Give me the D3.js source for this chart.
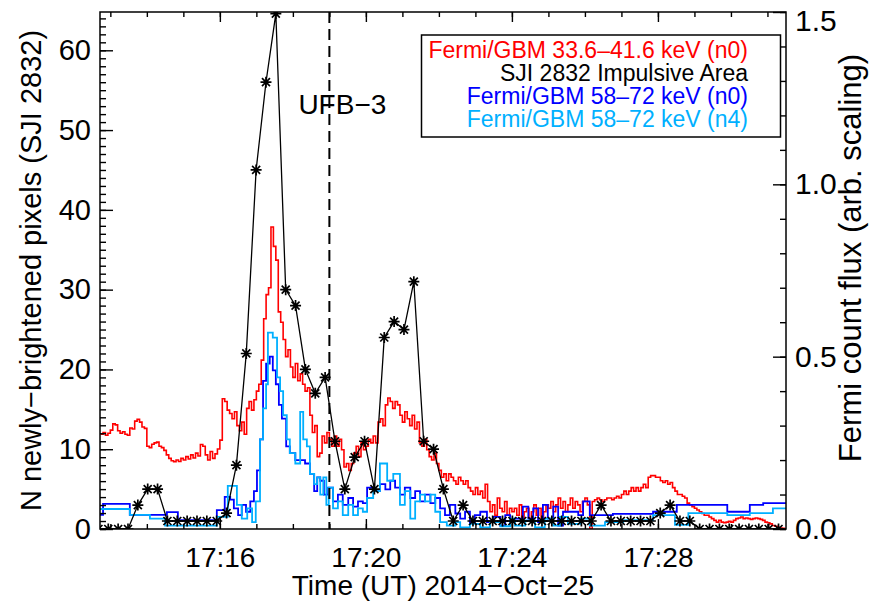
<!DOCTYPE html>
<html><head><meta charset="utf-8">
<script src="https://cdn.jsdelivr.net/npm/d3@7"></script>
<style>
body{margin:0;background:#fff}
text{font-family:"Liberation Sans",Arial,Helvetica,sans-serif}
</style>
</head><body>
<svg id="c" width="870" height="604"></svg>
<script>
// ---------------- DATA (times in seconds after 17:00:00 UT) ----------------
const xDomain = [763, 1890.5];               // 17:12:43 – 17:31:30
const xTickTimes = [960, 1200, 1440, 1680];
const xTickLabels = ["17:16", "17:20", "17:24", "17:28"];
const leftTicks = [0, 10, 20, 30, 40, 50, 60];
const rightTicks = [0, 0.5, 1.0, 1.5];
const rightTickLabels = ["0.0", "0.5", "1.0", "1.5"];
const ufbTime = 1140;                        // 17:19:00, UFB-3 marker

// SJI 2832 impulsive area (N pixels), regular cadence
const sjiStart = 760.4, sjiCadence = 16.2;
const sjiValues = [0,0,0,0,3,5,5,1,1,1,1,1,1,2,8,22,45,56,64.6,30,28,20,17,19,11,5,9,11,5,
  24,26,25,31,11,10,5,1,3,1,1,1,1,1,1,1,1,1,1,1,1,1,3,1,1,1,1,1,2,3,1,1,0,0,0,0,0,0,0,0,0];

// Fermi/GBM 33.6-41.6 keV (n0), 4 s bins, arb. scaling
const redStart = 764, redCadence = 4;
const redValues = [
 0.275,0.280,0.272,0.278,0.287,0.305,0.302,0.285,0.278,0.282,
 0.275,0.272,0.293,0.290,0.313,0.318,0.310,0.296,0.292,0.240,
 0.236,0.246,0.250,0.252,0.240,0.236,0.228,0.215,0.205,0.198,
 0.195,0.200,0.196,0.205,0.200,0.210,0.203,0.215,0.206,0.220,
 0.212,0.245,0.240,0.215,0.200,0.225,0.205,0.218,0.232,0.258,
 0.378,0.370,0.345,0.335,0.320,0.340,0.300,0.285,0.310,0.275,
 0.350,0.370,0.345,0.375,0.400,0.420,0.490,0.610,0.680,0.700,
 0.876,0.820,0.780,0.630,0.600,0.550,0.500,0.520,0.470,0.440,
 0.480,0.430,0.450,0.420,0.400,0.410,0.330,0.280,0.300,0.210,
 0.220,0.270,0.250,0.280,0.260,0.240,0.270,0.240,0.260,0.230,
 0.180,0.190,0.170,0.190,0.220,0.240,0.210,0.250,0.230,0.240,
 0.260,0.250,0.270,0.250,0.310,0.320,0.300,0.360,0.380,0.370,
 0.350,0.370,0.360,0.330,0.310,0.340,0.320,0.300,0.330,0.290,
 0.310,0.250,0.240,0.260,0.230,0.210,0.200,0.220,0.190,0.170,
 0.150,0.160,0.140,0.160,0.150,0.140,0.130,0.150,0.140,0.130,
 0.140,0.120,0.110,0.100,0.120,0.100,0.110,0.090,0.130,0.080,
 0.050,0.070,0.040,0.090,0.060,0.050,0.080,0.040,0.060,0.050,
 0.060,0.040,0.070,0.030,0.050,0.060,0.030,0.050,0.070,0.040,
 0.060,0.030,0.050,0.070,0.060,0.080,0.050,0.070,0.090,0.060,
 0.080,0.050,0.070,0.090,0.060,0.080,0.070,0.050,0.080,0.090,
 0.070,0.000,0.080,0.085,0.090,0.085,0.080,0.085,0.090,0.090,
 0.085,0.090,0.095,0.090,0.100,0.110,0.100,0.110,0.120,0.110,
 0.120,0.110,0.120,0.130,0.120,0.150,0.155,0.155,0.150,0.150,
 0.140,0.135,0.140,0.130,0.135,0.120,0.110,0.100,0.100,0.095,
 0.090,0.075,0.070,0.065,0.060,0.055,0.050,0.045,0.040,0.040,
 0.035,0.030,0.025,0.020,0.025,0.020,0.018,0.020,0.022,0.020,
 0.025,0.030,0.032,0.035,0.030,0.032,0.030,0.028,0.030,0.032,
 0.030,0.028,0.025,0.020,0.018,0.015,0.010,0.008,0.005,0.003,
 0.002,0.000];

// Fermi/GBM 58-72 keV (n0): variable bins (bin start times) and values
const n0Starts = [763,768,812,873,891,955,968,977,983,990,996,1003,1010,1016,1021,1026,1031,1036,
  1042,1047,1052,1057,1062,1069,1075,1084,1092,1100,1108,1115,1120,1125,1131,1138,1146,1154,1162,
  1171,1179,1187,1195,1202,1212,1223,1232,1240,1248,1256,1264,1273,1281,1289,1297,1306,1314,1322,
  1330,1338,1347,1355,1363,1371,1379,1388,1399,1409,1421,1429,1437,1445,1458,1467,1475,1483,1491,
  1499,1508,1516,1524,1531,1549,1557,1568,1606,1672,1711,1794,1831,1853];
const n0Values = [0.041,0.073,0.041,0.049,0.026,0.055,0.093,0.085,0.060,0.040,0.070,0.050,0.080,
  0.110,0.170,0.260,0.430,0.480,0.500,0.460,0.420,0.360,0.320,0.240,0.220,0.200,0.200,0.190,0.160,
  0.110,0.150,0.140,0.100,0.120,0.080,0.100,0.070,0.090,0.065,0.080,0.075,0.120,0.110,0.130,0.115,
  0.140,0.120,0.100,0.120,0.090,0.110,0.080,0.100,0.075,0.090,0.060,0.040,0.070,0.045,0.030,0.050,
  0.020,0.040,0.050,0.020,0.035,0.010,0.040,0.020,0.030,0.065,0.030,0.060,0.020,0.070,0.030,0.065,
  0.010,0.050,0.050,0.040,0.080,0.040,0.044,0.050,0.070,0.050,0.070,0.075];

// Fermi/GBM 58-72 keV (n4)
const n4Starts = [763,812,845,870,955,973,988,996,1005,1013,1019,1026,1031,1036,1039,1047,1054,1059,
  1064,1070,1075,1084,1092,1097,1103,1108,1115,1120,1125,1130,1135,1139,1146,1154,1162,1171,1179,
  1187,1195,1202,1212,1223,1235,1245,1256,1264,1273,1281,1289,1297,1306,1314,1322,1333,1347,1355,
  1371,1388,1404,1421,1437,1445,1462,1478,1494,1508,1519,1532,1552,1568,1593,1623,1672,1708,1730,
  1794,1831,1869];
const n4Values = [0.058,0.041,0.030,0.010,0.035,0.125,0.070,0.030,0.060,0.020,0.080,0.260,0.350,
  0.420,0.570,0.555,0.440,0.400,0.330,0.260,0.220,0.190,0.340,0.260,0.240,0.160,0.130,0.150,0.100,
  0.150,0.070,0.120,0.060,0.080,0.040,0.070,0.040,0.060,0.050,0.090,0.110,0.190,0.140,0.160,0.070,
  0.110,0.030,0.080,0.100,0.080,0.100,0.050,0.020,0.010,0.020,0.005,0.015,0.005,0.020,0.008,0.030,
  0.010,0.025,0.005,0.030,0.010,0.035,0.015,0.030,0.010,0.020,0.026,0.040,0.012,0.046,0.040,0.046,
  0.060];

const legendItems = [
  {label: "Fermi/GBM 33.6\u201341.6 keV (n0)", color: "#ff0000"},
  {label: "SJI 2832 Impulsive Area", color: "#000000"},
  {label: "Fermi/GBM 58\u201372 keV (n0)", color: "#0000ff"},
  {label: "Fermi/GBM 58\u201372 keV (n4)", color: "#00b0ff"}
];

// ---------------- DRAWING ----------------
const M = {l: 100, r: 786, t: 12, b: 529};
const FS = 28;
const svg = d3.select("#c");

const x = d3.scaleLinear().domain(xDomain).range([M.l, M.r]);
const yL = d3.scaleLinear().domain([0, 64.8]).range([M.b, M.t]);
const yR = d3.scaleLinear().domain([0, 1.5]).range([M.b, M.t]);

svg.append("defs").append("clipPath").attr("id", "clip")
  .append("rect").attr("x", M.l).attr("y", M.t).attr("width", M.r - M.l).attr("height", M.b - M.t);

const plot = svg.append("g").attr("clip-path", "url(#clip)");

function stepPath(starts, vals, end, ys) {
  const pts = starts.map((t, i) => [t, vals[i]]);
  pts.push([end, vals[vals.length - 1]]);
  return d3.line().x(d => x(d[0])).y(d => ys(d[1])).curve(d3.curveStepAfter)(pts);
}

const redStarts = redValues.map((v, i) => redStart + i * redCadence);
plot.append("path").attr("d", stepPath(redStarts, redValues, redStarts[redStarts.length - 1] + redCadence, yR))
  .attr("fill", "none").attr("stroke", "#ff0000").attr("stroke-width", 1.6);
plot.append("path").attr("d", stepPath(n0Starts, n0Values, 1891, yR))
  .attr("fill", "none").attr("stroke", "#0000ff").attr("stroke-width", 1.8);
plot.append("path").attr("d", stepPath(n4Starts, n4Values, 1891, yR))
  .attr("fill", "none").attr("stroke", "#00b0ff").attr("stroke-width", 1.8);

const sji = sjiValues.map((v, i) => [sjiStart + i * sjiCadence, v]);
plot.append("path").attr("d", d3.line().x(d => x(d[0])).y(d => yL(d[1]))(sji))
  .attr("fill", "none").attr("stroke", "#000").attr("stroke-width", 1.3);
const star = "M-5.5,0H5.5M0,-5.5V5.5M-4,-4L4,4M-4,4L4,-4";
plot.selectAll("path.star").data(sji).join("path").attr("class", "star")
  .attr("d", star).attr("transform", d => `translate(${x(d[0])},${yL(d[1])})`)
  .attr("fill", "none").attr("stroke", "#000").attr("stroke-width", 1.7);

svg.append("line").attr("x1", x(ufbTime)).attr("x2", x(ufbTime)).attr("y1", M.t).attr("y2", M.b)
  .attr("stroke", "#000").attr("stroke-width", 2).attr("stroke-dasharray", "11,6");
svg.append("text").attr("x", x(ufbTime) - 31).attr("y", 114).attr("font-size", FS).text("UFB\u22123");

function styleAxis(g, fs) {
  g.select(".domain").remove();
  g.selectAll(".tick line").attr("stroke", "#000").attr("stroke-width", 1.4);
  g.selectAll("text").attr("font-size", fs || FS).attr("fill", "#000")
    .attr("font-family", '"Liberation Sans",Arial,sans-serif');
}
const xMinor = d3.range(780, 1891, 60);
svg.append("g").attr("transform", `translate(0,${M.b})`)
  .call(d3.axisBottom(x).tickValues(xMinor).tickSize(-5).tickFormat("")).call(styleAxis);
svg.append("g").attr("transform", `translate(0,${M.b})`)
  .call(d3.axisBottom(x).tickValues(xTickTimes).tickSize(-10).tickPadding(18)
    .tickFormat((d, i) => xTickLabels[i])).call(styleAxis);
svg.append("g").attr("transform", `translate(0,${M.t})`)
  .call(d3.axisTop(x).tickValues(xMinor).tickSize(-5).tickFormat("")).call(styleAxis);
svg.append("g").attr("transform", `translate(0,${M.t})`)
  .call(d3.axisTop(x).tickValues(xTickTimes).tickSize(-10).tickFormat("")).call(styleAxis);

svg.append("g").attr("transform", `translate(${M.l},0)`)
  .call(d3.axisLeft(yL).tickValues(d3.range(0, 65, 1)).tickSize(-6).tickFormat("")).call(styleAxis);
svg.append("g").attr("transform", `translate(${M.l},0)`)
  .call(d3.axisLeft(yL).tickValues(leftTicks).tickSize(-13).tickPadding(9).tickFormat(d3.format("d")))
  .call(g => styleAxis(g, 29));

svg.append("g").attr("transform", `translate(${M.r},0)`)
  .call(d3.axisRight(yR).tickValues(d3.range(0, 16, 1).map(d => d / 10)).tickSize(-6).tickFormat("")).call(styleAxis);
const rAx = svg.append("g").attr("transform", `translate(${M.r},0)`)
  .call(d3.axisRight(yR).tickValues(rightTicks).tickSize(-13).tickPadding(9)
    .tickFormat((d, i) => rightTickLabels[i])).call(g => styleAxis(g, 30));
rAx.selectAll(".tick text").filter(d => d === 1.5).attr("dy", "0.62em");

svg.append("rect").attr("x", M.l).attr("y", M.t).attr("width", M.r - M.l).attr("height", M.b - M.t)
  .attr("fill", "none").attr("stroke", "#000").attr("stroke-width", 1.5);

svg.append("text").attr("x", (M.l + M.r) / 2).attr("y", 595).attr("text-anchor", "middle")
  .attr("font-size", FS).text("Time (UT) 2014\u2212Oct\u221225");
svg.append("text").attr("transform", `translate(41,${(M.t + M.b) / 2}) rotate(-90)`)
  .attr("text-anchor", "middle").attr("font-size", 29)
  .text("N newly\u2212brightened pixels (SJI 2832)");
svg.append("text").attr("transform", `translate(861,258) rotate(-90)`)
  .attr("text-anchor", "middle").attr("font-size", 31)
  .text("Fermi count flux (arb. scaling)");

const lg = svg.append("g");
lg.append("rect").attr("x", 421.5).attr("y", 35).attr("width", 359).attr("height", 102)
  .attr("fill", "#fff").attr("stroke", "#000").attr("stroke-width", 1.5);
lg.selectAll("text").data(legendItems).join("text")
  .attr("x", 748).attr("y", (d, i) => 58 + i * 23).attr("text-anchor", "end")
  .attr("font-size", 23).attr("fill", d => d.color).text(d => d.label);
</script>
</body></html>
